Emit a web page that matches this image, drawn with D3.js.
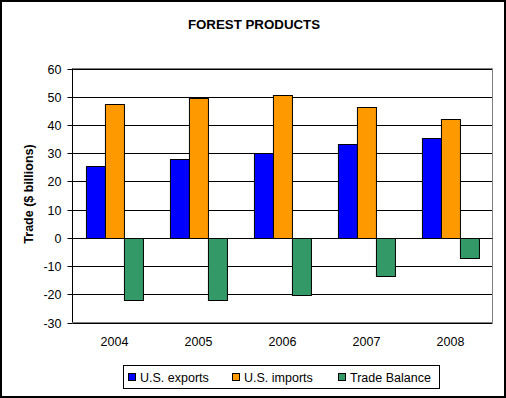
<!DOCTYPE html>
<html>
<head>
<meta charset="utf-8">
<script src="https://cdn.jsdelivr.net/npm/d3@7"></script>
<style>
  body { margin: 0; background: #fff; }
  svg { display: block; font-family: "Liberation Sans", Arial, sans-serif; }
</style>
</head>
<body>
<svg width="506" height="398"></svg>
<script>
// Data.
const years = ['2004', '2005', '2006', '2007', '2008'];
const seriesNames = ['U.S. exports', 'U.S. imports', 'Trade Balance'];
const exportsVals = [25.4, 27.8, 29.9, 33.2, 35.4];
const importsVals = [47.3, 49.4, 50.5, 46.2, 42.1];
const balanceVals = [-22.2, -22.2, -20.4, -13.7, -7.3];
const yTicks = [-30, -20, -10, 0, 10, 20, 30, 40, 50, 60];
const colors = ['#0000ff', '#ff9900', '#339966'];

const svg = d3.select('svg');

// Outer frame: black border, white inside.
svg.append('rect').attr('width', 506).attr('height', 398).attr('fill', '#000');
svg.append('rect').attr('x', 2).attr('y', 2).attr('width', 502).attr('height', 394).attr('fill', '#fff');

const plot = { left: 72.5, right: 492.5, top: 68.5, bottom: 322.5 };

const y = d3.scaleLinear().domain([-30, 60]).range([plot.bottom, plot.top]);
const x0 = d3.scaleBand().domain(years).range([plot.left, plot.right])
  .paddingInner(0.32).paddingOuter(0.16);
const x1 = d3.scaleBand().domain(seriesNames).range([0, x0.bandwidth()]);

// Gridlines
svg.append('g').selectAll('line').data(yTicks).join('line')
  .attr('x1', plot.left).attr('x2', plot.right)
  .attr('y1', d => Math.round(y(d)) + 0.5).attr('y2', d => Math.round(y(d)) + 0.5)
  .attr('stroke', '#000').attr('stroke-width', 1);

// Plot border (top, right, bottom gray)
svg.append('path')
  .attr('d', `M${plot.left},${plot.top}H${plot.right}V${plot.bottom}H${plot.left}`)
  .attr('fill', 'none').attr('stroke', '#808080').attr('stroke-width', 1);

// Bars
const table = years.map((yr, i) => ({
  year: yr,
  vals: [exportsVals[i], importsVals[i], balanceVals[i]]
}));

const groups = svg.append('g').selectAll('g').data(table).join('g')
  .attr('transform', d => `translate(${x0(d.year)},0)`);

groups.selectAll('rect')
  .data(d => d.vals.map((v, k) => ({ name: seriesNames[k], v, k })))
  .join('rect')
  .attr('x', d => Math.round(x1(d.name)) + 0.5)
  .attr('width', Math.round(x1.bandwidth()))
  .attr('y', d => Math.round(y(Math.max(0, d.v))) + 0.5)
  .attr('height', d => Math.abs(Math.round(y(d.v)) - Math.round(y(0))))
  .attr('fill', d => colors[d.k])
  .attr('stroke', '#000').attr('stroke-width', 1);

// Y axis (plain hyphen for negatives, like the original)
const yAxis = d3.axisLeft(y).tickValues(yTicks).tickFormat(d => String(d))
  .tickSize(5).tickPadding(6);
const ya = svg.append('g').attr('transform', `translate(${plot.left},0)`).call(yAxis);
ya.select('.domain').attr('d', `M0,${plot.top}V${plot.bottom}`).attr('stroke', '#000');
ya.selectAll('.tick').attr('transform', d => `translate(0,${Math.round(y(d)) + 0.5})`);
ya.selectAll('.tick text')
  .attr('font-size', '12.5px').attr('font-family', '"Liberation Sans", Arial, sans-serif')
  .attr('fill', '#000');

// Zero line (category axis)
svg.append('line')
  .attr('x1', plot.left).attr('x2', plot.right)
  .attr('y1', Math.round(y(0)) + 0.5).attr('y2', Math.round(y(0)) + 0.5)
  .attr('stroke', '#000');

// X labels
svg.append('g').selectAll('text').data(years).join('text')
  .attr('x', d => x0(d) + x0.bandwidth() / 2)
  .attr('y', 346)
  .attr('text-anchor', 'middle')
  .attr('font-size', '12.5px')
  .text(d => d);

// Title
svg.append('text')
  .attr('x', 254).attr('y', 28.5)
  .attr('text-anchor', 'middle')
  .attr('font-size', '13.3px').attr('font-weight', 'bold')
  .text('FOREST PRODUCTS');

// Y axis title
svg.append('text')
  .attr('transform', 'translate(33,194) rotate(-90)')
  .attr('text-anchor', 'middle')
  .attr('font-size', '12.5px').attr('font-weight', 'bold')
  .text('Trade ($ billions)');

// Legend
const legend = svg.append('g');
legend.append('rect')
  .attr('x', 123.5).attr('y', 365.5).attr('width', 316).attr('height', 23)
  .attr('fill', '#fff').attr('stroke', '#000');
const legendX = [128.5, 232.5, 338.5];
const items = legend.selectAll('g.item').data(seriesNames).join('g').attr('class', 'item');
items.append('rect')
  .attr('x', (d, i) => legendX[i]).attr('y', 373.5)
  .attr('width', 7).attr('height', 7)
  .attr('fill', (d, i) => colors[i]).attr('stroke', '#000');
items.append('text')
  .attr('x', (d, i) => legendX[i] + 11.5).attr('y', 381.5)
  .attr('font-size', '12.5px')
  .text(d => d);
</script>
</body>
</html>
